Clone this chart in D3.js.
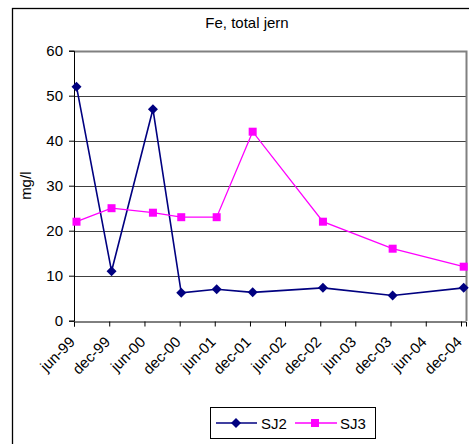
<!DOCTYPE html>
<html>
<head>
<meta charset="utf-8">
<script src="https://cdn.jsdelivr.net/npm/d3@7/dist/d3.min.js"></script>
<style>
  html, body { margin: 0; padding: 0; background: #fff; }
  svg { display: block; font-family: "Liberation Sans", Arial, sans-serif; }
</style>
</head>
<body>
<svg id="chart" width="469" height="444"></svg>
<script>
// Sampling dates (shared by both stations)
const sampleDates = ["1999-06-14", "1999-12-13", "2000-07-15", "2000-12-09", "2001-06-11",
                     "2001-12-15", "2002-12-15", "2003-12-12", "2004-12-15"];
// Total iron, mg/l
const sj2Values = [52, 11, 47, 6.2, 7, 6.3, 7.3, 5.6, 7.3];
const sj3Values = [22, 25, 24, 23, 23, 42, 22, 16, 12];
const seriesNames = ["SJ2", "SJ3"];
// Axis labels
const xTickLabels = ["jun-99", "dec-99", "jun-00", "dec-00", "jun-01", "dec-01",
                     "jun-02", "dec-02", "jun-03", "dec-03", "jun-04", "dec-04"];
const yTicks = [0, 10, 20, 30, 40, 50, 60];

const svg = d3.select("#chart");
const parseDay = d3.timeParse("%Y-%m-%d");
const parseTick = d3.timeParse("%b-%y");
const tickDates = xTickLabels.map(parseTick);

const plot = { left: 74, right: 466, top: 50.7, bottom: 320.7 };

const x = d3.scaleTime()
  .domain([new Date(1999, 5, 1), new Date(2004, 11, 27)])
  .range([plot.left, plot.right]);
const y = d3.scaleLinear().domain([0, 60]).range([plot.bottom, plot.top]);

// Outer chart frame
svg.append("rect")
  .attr("x", 12.5).attr("y", 8.5)
  .attr("width", 480).attr("height", 460)
  .attr("fill", "none").attr("stroke", "#000").attr("stroke-width", 1.3);

// Title
svg.append("text")
  .attr("x", 247).attr("y", 28)
  .attr("text-anchor", "middle")
  .attr("font-size", 15)
  .text("Fe, total jern");

// Horizontal gridlines
svg.append("g")
  .selectAll("line")
  .data(yTicks.filter(d => d > 0))
  .join("line")
  .attr("x1", plot.left).attr("x2", plot.right)
  .attr("y1", d => Math.round(y(d)) + 0.5).attr("y2", d => Math.round(y(d)) + 0.5)
  .attr("stroke", "#404040").attr("stroke-width", 1);

// Plot area border (top / right)
svg.append("path")
  .attr("d", `M${plot.left},${Math.round(plot.top) + 0.5}H${plot.right + 0.5}V${Math.round(plot.bottom)}`)
  .attr("fill", "none").attr("stroke", "#808080").attr("stroke-width", 2);

// Y axis
const yAxis = svg.append("g")
  .attr("transform", `translate(${plot.left},0)`)
  .call(d3.axisLeft(y).tickValues(yTicks).tickSize(5).tickPadding(6));
yAxis.select(".domain").attr("stroke", "#000");
yAxis.selectAll(".tick line").attr("stroke", "#000");
yAxis.selectAll(".tick text")
  .attr("font-size", 15).attr("font-family", null).attr("fill", "#000");

// X axis
const xAxis = svg.append("g")
  .attr("transform", `translate(0,${Math.round(plot.bottom) + 0.5})`)
  .call(d3.axisBottom(x).tickValues(tickDates).tickSize(5)
    .tickFormat((d, i) => xTickLabels[i]));
xAxis.select(".domain").attr("stroke", "#000");
xAxis.selectAll(".tick line").attr("stroke", "#000");
xAxis.selectAll(".tick text")
  .attr("font-size", 15).attr("font-family", null).attr("fill", "#000")
  .attr("text-anchor", "end")
  .attr("transform", "translate(-6,14) rotate(-45)")
  .attr("x", 0).attr("y", 0).attr("dy", "0.7em");

// Y axis title
svg.append("text")
  .attr("transform", `translate(31,${(plot.top + plot.bottom) / 2}) rotate(-90)`)
  .attr("text-anchor", "middle")
  .attr("font-size", 15)
  .text("mg/l");

// Series
const series = [
  { name: seriesNames[0], values: sj2Values, color: "#000080", marker: "diamond", width: 1.6 },
  { name: seriesNames[1], values: sj3Values, color: "#FF00FF", marker: "square", width: 1.3 }
];

function drawMarker(g, type, color) {
  if (type === "diamond") {
    g.append("path").attr("d", "M0,-5L5,0L0,5L-5,0Z").attr("fill", color);
  } else {
    g.append("rect").attr("x", -4).attr("y", -4).attr("width", 8).attr("height", 8).attr("fill", color);
  }
}

const line = d3.line().x(d => x(d.date)).y(d => y(d.value));

series.forEach(s => {
  const pts = s.values.map((v, i) => ({ date: parseDay(sampleDates[i]), value: v }));
  svg.append("path")
    .datum(pts)
    .attr("d", line)
    .attr("fill", "none").attr("stroke", s.color).attr("stroke-width", s.width);
  svg.append("g").selectAll("g")
    .data(pts)
    .join("g")
    .attr("transform", d => `translate(${x(d.date)},${y(d.value)})`)
    .each(function () { drawMarker(d3.select(this), s.marker, s.color); });
});

// Legend
const legend = svg.append("g");
legend.append("rect")
  .attr("x", 210.5).attr("y", 407.5).attr("width", 165).attr("height", 31)
  .attr("fill", "#fff").attr("stroke", "#000").attr("stroke-width", 1);
const legendItems = [
  { x1: 216, x2: 257, mx: 236, tx: 261 },
  { x1: 295, x2: 337, mx: 315, tx: 340 }
];
series.forEach((s, i) => {
  const it = legendItems[i];
  legend.append("line")
    .attr("x1", it.x1).attr("x2", it.x2).attr("y1", 423).attr("y2", 423)
    .attr("stroke", s.color).attr("stroke-width", s.width);
  drawMarker(legend.append("g").attr("transform", `translate(${it.mx},423)`), s.marker, s.color);
  legend.append("text")
    .attr("x", it.tx).attr("y", 428.5)
    .attr("font-size", 15)
    .text(s.name);
});
</script>
</body>
</html>
